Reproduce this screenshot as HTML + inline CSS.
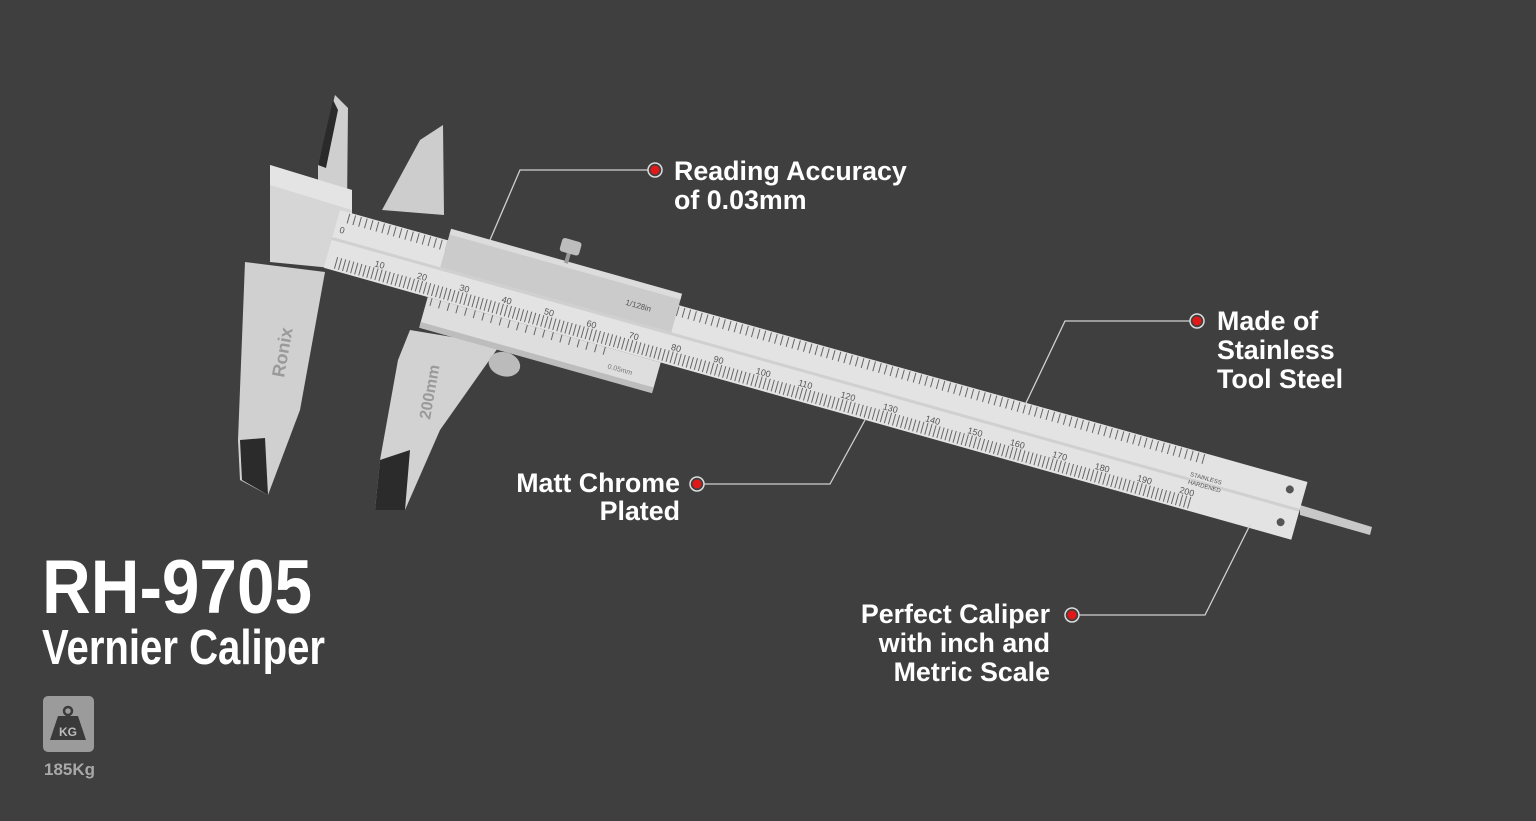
<!DOCTYPE html>
<html><head><meta charset="utf-8"><style>
html,body{margin:0;padding:0;background:#3f3f3f;}
svg{display:block;}
text{font-family:"Liberation Sans",sans-serif;}
</style></head><body>
<svg width="1536" height="821" viewBox="0 0 1536 821" xmlns="http://www.w3.org/2000/svg">
<rect width="1536" height="821" fill="#3f3f3f"/>

<polygon points="318,165 335,95 348,108 347,205 318,205" fill="#cfcfcf"/>
<polygon points="318,165 333,100 338,110 326,168" fill="#2a2a2a"/>
<polygon points="270,165 352,190 352,270 270,262" fill="#d6d6d6"/>
<polygon points="270,165 352,190 352,210 270,185" fill="#e4e4e4"/>
<polygon points="245,262 325,272 300,410 268,495 240,480 238,440" fill="#d0d0d0"/>
<polygon points="240,440 265,438 268,495 242,480" fill="#2b2b2b"/>
<text x="0" y="0" font-size="18" font-weight="bold" fill="#9a9a9a" transform="translate(284,378) rotate(-80)">Ronix</text>

<polygon points="382,210 420,140 443,125 444,215" fill="#cdcdcd"/>
<polygon points="410,330 500,345 440,430 405,510 375,510 380,460 398,360" fill="#d2d2d2"/>
<polygon points="380,460 410,450 405,510 375,510" fill="#2b2b2b"/>
<text x="0" y="0" font-size="16" font-weight="bold" fill="#9a9a9a" transform="translate(430,420) rotate(-80)">200mm</text>

<polygon points="1300,505 1372,527 1370,535 1300,515" fill="#c8c8c8"/>

<g transform="translate(340,210) rotate(15.7)">
  <rect x="0" y="0" width="1005" height="60" fill="#e3e3e3"/>
  <rect x="0" y="28" width="1005" height="3" fill="#d0d0d0"/>
  <line x1="10" y1="6" x2="900" y2="6" stroke="#666" stroke-width="10" stroke-dasharray="1 5"/>
  <line x1="10" y1="52" x2="900" y2="52" stroke="#666" stroke-width="12" stroke-dasharray="1 3.2"/>
  <g font-size="9" fill="#555">
    <text x="5" y="22">0</text><text x="48" y="45">10</text><text x="92" y="45">20</text>
    <text x="136" y="45">30</text><text x="180" y="45">40</text><text x="224" y="45">50</text>
    <text x="268" y="45">60</text><text x="312" y="45">70</text><text x="356" y="45">80</text>
    <text x="400" y="45">90</text><text x="444" y="45">100</text><text x="488" y="45">110</text>
    <text x="532" y="45">120</text><text x="576" y="45">130</text><text x="620" y="45">140</text>
    <text x="664" y="45">150</text><text x="708" y="45">160</text><text x="752" y="45">170</text>
    <text x="796" y="45">180</text><text x="840" y="45">190</text><text x="884" y="45">200</text>
    <text x="890" y="26" font-size="6">STAINLESS</text><text x="890" y="34" font-size="6">HARDENED</text>
  </g>
  <circle cx="990" cy="12" r="4" fill="#555"/><circle cx="990" cy="46" r="4" fill="#555"/>
  <rect x="112" y="-8" width="240" height="36" fill="#cbcbcb"/>
  <rect x="112" y="-12" width="240" height="6" fill="#dcdcdc"/>
  <text x="300" y="14" font-size="8" fill="#555">1/128in</text>
  <rect x="230" y="-22" width="4" height="12" fill="#999"/>
  <rect x="222" y="-34" width="20" height="14" rx="3" fill="#bdbdbd"/>
  <rect x="108" y="60" width="242" height="28" fill="#dedede"/>
  <rect x="108" y="86" width="242" height="6" fill="#bdbdbd"/>
  <line x1="112" y1="64" x2="300" y2="64" stroke="#666" stroke-width="8" stroke-dasharray="1 8"/>
  <text x="300" y="80" font-size="7" fill="#777">0.05mm</text>
  <ellipse cx="200" cy="104" rx="16" ry="12" fill="#bbb"/>
</g>

<g stroke="#d0d0d0" stroke-width="1.3" fill="none">
  <polyline points="648,170 520,170 490,240"/>
  <polyline points="1190,321 1065,321 1025,405"/>
  <polyline points="704,484 830,484 865,420"/>
  <polyline points="1079,615 1205,615 1250,525"/>
</g>
<g>
  <circle cx="655" cy="170" r="7" fill="#3f3f3f" stroke="#ddd" stroke-width="1.5"/><circle cx="655" cy="170" r="4.5" fill="#e01818"/>
  <circle cx="1197" cy="321" r="7" fill="#3f3f3f" stroke="#ddd" stroke-width="1.5"/><circle cx="1197" cy="321" r="4.5" fill="#e01818"/>
  <circle cx="697" cy="484" r="7" fill="#3f3f3f" stroke="#ddd" stroke-width="1.5"/><circle cx="697" cy="484" r="4.5" fill="#e01818"/>
  <circle cx="1072" cy="615" r="7" fill="#3f3f3f" stroke="#ddd" stroke-width="1.5"/><circle cx="1072" cy="615" r="4.5" fill="#e01818"/>
</g>

<g font-size="26.8" font-weight="bold" fill="#ffffff">
  <text x="674" y="180">Reading Accuracy</text>
  <text x="674" y="209">of 0.03mm</text>
  <text x="1217" y="330">Made of</text>
  <text x="1217" y="359">Stainless</text>
  <text x="1217" y="388">Tool Steel</text>
  <text x="680" y="492" text-anchor="end">Matt Chrome</text>
  <text x="680" y="520" text-anchor="end">Plated</text>
  <text x="1050" y="623" text-anchor="end">Perfect Caliper</text>
  <text x="1050" y="652" text-anchor="end">with inch and</text>
  <text x="1050" y="681" text-anchor="end">Metric Scale</text>
</g>

<text x="42" y="613" font-size="76" font-weight="bold" fill="#fff" textLength="270" lengthAdjust="spacingAndGlyphs">RH-9705</text>
<text x="42" y="664" font-size="49" font-weight="bold" fill="#fff" textLength="283" lengthAdjust="spacingAndGlyphs">Vernier Caliper</text>

<rect x="43" y="696" width="51" height="56" rx="5" fill="#9b9b9b"/>
<circle cx="68" cy="711" r="4" fill="none" stroke="#3a3a3a" stroke-width="2.5"/>
<polygon points="58,716 78,716 86,740 50,740" fill="#3a3a3a"/>
<text x="68" y="736" font-size="12" font-weight="bold" fill="#bbb" text-anchor="middle">KG</text>
<text x="44" y="775" font-size="17" font-weight="bold" fill="#a8a8a8">185Kg</text>
</svg>
</body></html>
